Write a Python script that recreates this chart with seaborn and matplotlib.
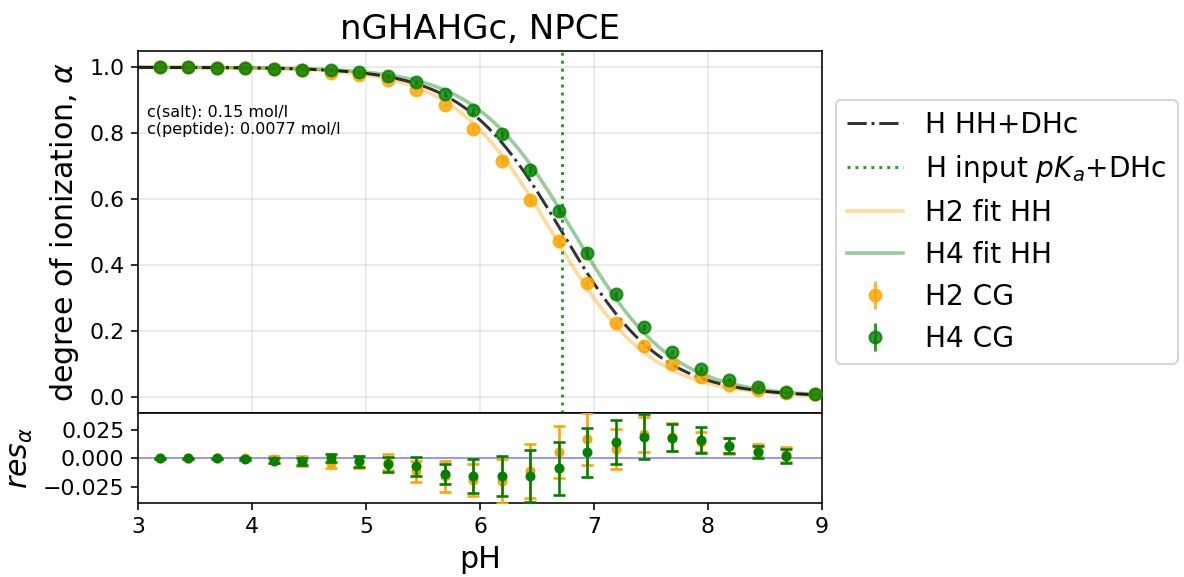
import numpy as np
import pandas as pd
import matplotlib
matplotlib.use("Agg")
import matplotlib.pyplot as plt
import seaborn as sns

# ---------------- data ----------------
pH = [3.19, 3.44, 3.69, 3.94, 4.19, 4.44, 4.69, 4.94, 5.19, 5.44, 5.69, 5.94,
      6.19, 6.44, 6.69, 6.94, 7.19, 7.44, 7.69, 7.94, 8.19, 8.44, 8.69, 8.94]
alpha_H2 = [1.0, 0.9995, 0.999, 0.998, 0.995, 0.991, 0.984, 0.977, 0.960, 0.930,
            0.885, 0.813, 0.717, 0.597, 0.472, 0.345, 0.224, 0.155, 0.099, 0.059,
            0.034, 0.021, 0.011, 0.007]
alpha_H4 = [1.0, 0.9995, 0.999, 0.998, 0.996, 0.993, 0.991, 0.986, 0.973, 0.955,
            0.920, 0.869, 0.796, 0.689, 0.563, 0.435, 0.311, 0.212, 0.136, 0.085,
            0.052, 0.028, 0.014, 0.009]
err_H2 = [0.0003, 0.0003, 0.0003, 0.0005, 0.001, 0.002, 0.003, 0.003, 0.004, 0.005,
          0.007, 0.008, 0.010, 0.012, 0.012, 0.012, 0.010, 0.008, 0.007, 0.005,
          0.004, 0.003, 0.003, 0.002]
err_H4 = [0.0003, 0.0003, 0.0003, 0.0005, 0.001, 0.002, 0.002, 0.003, 0.004, 0.005,
          0.005, 0.008, 0.010, 0.012, 0.012, 0.012, 0.010, 0.010, 0.007, 0.006,
          0.004, 0.003, 0.003, 0.002]

pH_res = pH[:23]
res_H2 = [0.0, 0.0, 0.0, 0.0, -0.0006, -0.002, -0.0035, -0.003, -0.003, -0.0112,
          -0.0156, -0.0185, -0.0196, -0.0110, 0.0055, 0.0170, 0.0079, 0.0210,
          0.0184, 0.0143, 0.0107, 0.0068, 0.0035]
res_H4 = [0.0, 0.0, 0.0, -0.0003, -0.002, -0.0026, 0.0004, -0.0026, -0.0052, -0.0069,
          -0.0135, -0.0150, -0.0150, -0.0150, -0.0086, 0.0052, 0.0142, 0.0190,
          0.0178, 0.0157, 0.0108, 0.0056, 0.0024]
res_err_H2 = [0.0005, 0.0005, 0.0005, 0.001, 0.003, 0.0043, 0.005, 0.0055, 0.0072, 0.009,
              0.0137, 0.014, 0.019, 0.0233, 0.0226, 0.0223, 0.0172, 0.015, 0.012, 0.009,
              0.0068, 0.0055, 0.0066]
res_err_H4 = [0.0005, 0.0005, 0.0005, 0.001, 0.002, 0.003, 0.0035, 0.0046, 0.0068, 0.0081,
              0.0085, 0.0148, 0.0174, 0.0223, 0.023, 0.0213, 0.019, 0.0194, 0.0116, 0.0112,
              0.0065, 0.0055, 0.0062]

pKa_H_DHc = 6.72      # H HH+DHc
pKa_input = 6.72      # H input pKa + DHc
pKa_H2_fit = 6.63     # H2 fit HH
pKa_H4_fit = 6.82     # H4 fit HH

title = "nGHAHGc, NPCE"
note = "c(salt): 0.15 mol/l\nc(peptide): 0.0077 mol/l"

# ---------------- figure ----------------
W, H, DPI = 1184, 577, 144
fig = plt.figure(figsize=(W / DPI, H / DPI), dpi=DPI)
left = 138.3 / W
width = (821.7 - 138.3) / W
ax = fig.add_axes([left, 1 - 412.7 / H, width, (412.7 - 51) / H])
ax2 = fig.add_axes([left, 1 - 503.3 / H, width, (503.3 - 412.7) / H], sharex=ax)

grid_pH = np.linspace(3, 9, 400)
def hh(p, pka):
    return 1.0 / (1.0 + 10 ** (np.asarray(p) - pka))

curves = pd.DataFrame({
    "pH": np.tile(grid_pH, 3),
    "alpha": np.concatenate([hh(grid_pH, pKa_H2_fit), hh(grid_pH, pKa_H4_fit),
                             hh(grid_pH, pKa_H_DHc)]),
    "curve": ["H2 fit HH"] * len(grid_pH) + ["H4 fit HH"] * len(grid_pH)
             + ["H HH+DHc"] * len(grid_pH),
})

sns.lineplot(data=curves[curves.curve == "H2 fit HH"], x="pH", y="alpha", ax=ax,
             color="orange", alpha=0.4, lw=1.8, legend=False, zorder=2)
sns.lineplot(data=curves[curves.curve == "H4 fit HH"], x="pH", y="alpha", ax=ax,
             color="green", alpha=0.4, lw=1.8, legend=False, zorder=2)
sns.lineplot(data=curves[curves.curve == "H HH+DHc"], x="pH", y="alpha", ax=ax,
             color="k", alpha=0.8, lw=1.5, ls="-.", legend=False, zorder=3)
vline = ax.axvline(pKa_input, color="tab:green", ls=":", lw=1.5, zorder=3)

eb2 = ax.errorbar(pH, alpha_H2, yerr=err_H2, fmt="o", color="orange", alpha=0.8,
                  zorder=4)
eb4 = ax.errorbar(pH, alpha_H4, yerr=err_H4, fmt="o", color="green", alpha=0.8,
                  zorder=5)

ax.set_xlim(3, 9)
ax.set_ylim(-0.0486, 1.0495)
ax.set_yticks([0.0, 0.2, 0.4, 0.6, 0.8, 1.0])
ax.grid(True, color="#b0b0b0", alpha=0.3, lw=0.8)
ax.tick_params(axis="x", which="both", bottom=False, labelbottom=False)
ax.tick_params(axis="y", labelsize=11)
ax.set_ylabel(r"degree of ionization, $\alpha$", fontsize=15)
ax.set_xlabel("")
ax.set_title(title, fontsize=17)
ax.text(0.012, 0.852, note, transform=ax.transAxes, fontsize=8, va="top", ha="left")

line_k = ax.lines[2]
line_o = ax.lines[0]
line_g = ax.lines[1]
handles = [line_k, vline, line_o, line_g, eb2, eb4]
labels = ["H HH+DHc", r"H input $pK_a$+DHc", "H2 fit HH", "H4 fit HH", "H2 CG", "H4 CG"]
ax.legend(handles, labels, loc="center left", bbox_to_anchor=(1.0, 0.5), fontsize=14)

# residuals
ax2.axhline(0, color="b", lw=0.8, alpha=0.5, zorder=1)
ax2.errorbar(pH_res, res_H2, yerr=res_err_H2, fmt="o", color="orange", ms=4,
             capsize=3, elinewidth=1.3, capthick=1.3, zorder=3)
ax2.errorbar(pH_res, res_H4, yerr=res_err_H4, fmt="o", color="green", ms=4,
             capsize=3, elinewidth=1.3, capthick=1.3, zorder=4)
ax2.set_ylim(-0.0388, 0.0396)
ax2.set_yticks([-0.025, 0.0, 0.025])
ax2.set_xticks([3, 4, 5, 6, 7, 8, 9])
ax2.tick_params(labelsize=11)
ax2.set_xlabel("pH", fontsize=15)
ax2.set_ylabel(r"$res_\alpha$", fontsize=15)

fig.savefig("out.png", dpi=DPI)
